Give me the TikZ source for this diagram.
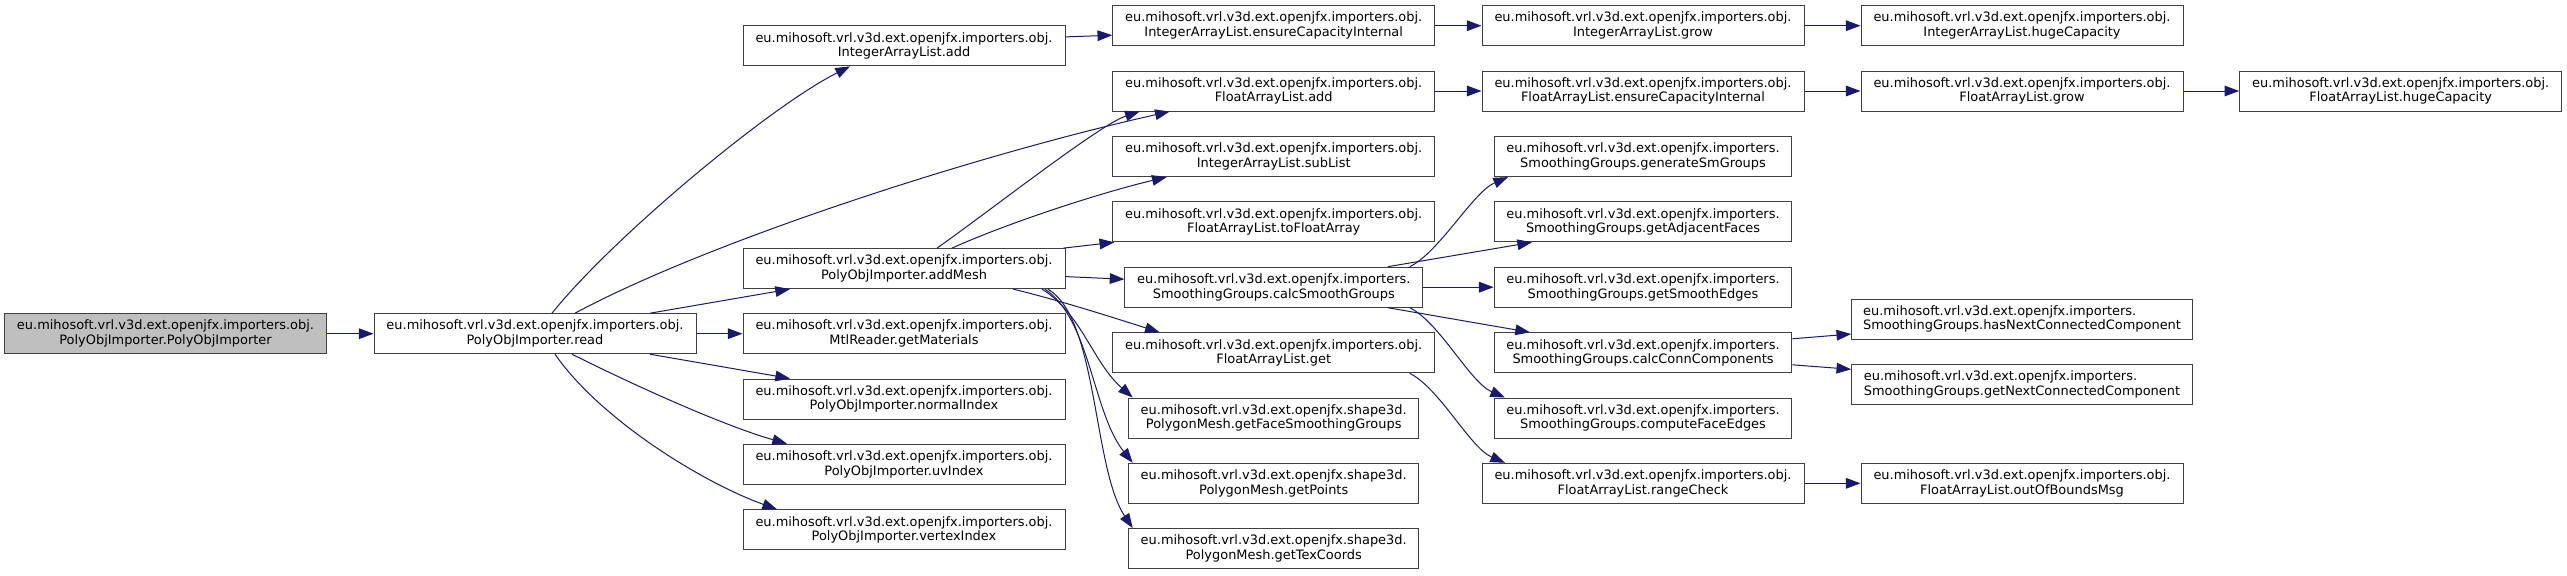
\documentclass[tikz,border=0pt]{standalone}
\usepackage{fontspec}
\setmainfont{DejaVu Sans}
\usepackage{tikz}
\usetikzlibrary{arrows.meta,calc}
\definecolor{cedge}{RGB}{25,25,112}
\definecolor{cbord}{RGB}{64,64,64}
\definecolor{cgris}{RGB}{191,191,191}
\newcommand{\pkobj}{eu.mihosoft.vrl.v3d.ext.openjfx.importers.obj.}
\newcommand{\pksg}{eu.mihosoft.vrl.v3d.ext.openjfx.importers.}
\newcommand{\pkmsh}{eu.mihosoft.vrl.v3d.ext.openjfx.shape3d.}

\begin{document}
\begin{tikzpicture}[x=0.75pt, y=-0.75pt, >={Triangle[length=11pt,width=8pt]},
  fn/.style={draw=cbord, line width=0.75pt, fill=white, align=center, inner sep=1pt,
    minimum height=30pt, minimum width=241.5pt, font=\fontsize{9.7}{11}\selectfont},
  sg/.style={fn, minimum width=223.3pt},
  pm/.style={fn, minimum width=217.5pt},
  cc/.style={fn, minimum width=255.5pt, align=left},
  ed/.style={->, cedge, line width=0.75pt}]
\useasboundingbox (0,0) rectangle (2567,575);
\node[fn, fill=cgris] (poi) at (165.5,333.7) {\pkobj\\PolyObjImporter.PolyObjImporter};
\node[fn] (rd) at (535,333.7) {\pkobj\\PolyObjImporter.read};
\node[fn] (iadd) at (904,45.9) {\pkobj\\IntegerArrayList.add};
\node[fn] (amesh) at (904,268.6) {\pkobj\\PolyObjImporter.addMesh};
\node[fn] (mtl) at (904,333.7) {\pkobj\\MtlReader.getMaterials};
\node[fn] (nidx) at (904,399) {\pkobj\\PolyObjImporter.normalIndex};
\node[fn] (uvi) at (904,464.2) {\pkobj\\PolyObjImporter.uvIndex};
\node[fn] (vidx) at (904,529.8) {\pkobj\\PolyObjImporter.vertexIndex};
\node[fn] (iecap) at (1273.7,25.7) {\pkobj\\IntegerArrayList.ensureCapacityInternal};
\node[fn] (fadd) at (1273.7,91) {\pkobj\\FloatArrayList.add};
\node[fn] (isub) at (1273.7,156.6) {\pkobj\\IntegerArrayList.subList};
\node[fn] (tofa) at (1273.7,221.8) {\pkobj\\FloatArrayList.toFloatArray};
\node[sg] (csg) at (1273.8,287.2) {\pksg\\SmoothingGroups.calcSmoothGroups};
\node[fn] (fget) at (1273.7,352.8) {\pkobj\\FloatArrayList.get};
\node[pm] (fsg) at (1273.7,418) {\pkmsh\\PolygonMesh.getFaceSmoothingGroups};
\node[pm] (gpts) at (1273.7,483.3) {\pkmsh\\PolygonMesh.getPoints};
\node[pm] (gtex) at (1273.7,548.6) {\pkmsh\\PolygonMesh.getTexCoords};
\node[fn] (igrow) at (1643,25.7) {\pkobj\\IntegerArrayList.grow};
\node[fn] (fecap) at (1643,91) {\pkobj\\FloatArrayList.ensureCapacityInternal};
\node[sg] (gensm) at (1643,156.6) {\pksg\\SmoothingGroups.generateSmGroups};
\node[sg] (adjf) at (1643,221.8) {\pksg\\SmoothingGroups.getAdjacentFaces};
\node[sg] (sme) at (1643,287.2) {\pksg\\SmoothingGroups.getSmoothEdges};
\node[sg] (ccomp) at (1643,352.8) {\pksg\\SmoothingGroups.calcConnComponents};
\node[sg] (cfe) at (1643,418) {\pksg\\SmoothingGroups.computeFaceEdges};
\node[fn] (rchk) at (1643,483.3) {\pkobj\\FloatArrayList.rangeCheck};
\node[fn] (ihuge) at (2022,25.7) {\pkobj\\IntegerArrayList.hugeCapacity};
\node[fn] (fgrow) at (2022,91) {\pkobj\\FloatArrayList.grow};
\node[cc] (hasnc) at (2022,319) {\pksg\\SmoothingGroups.hasNextConnectedComponent};
\node[cc] (getnc) at (2022,384.3) {\pksg\\SmoothingGroups.getNextConnectedComponent};
\node[fn] (oob) at (2022,483.3) {\pkobj\\FloatArrayList.outOfBoundsMsg};
\node[fn] (fhuge) at (2400.7,91) {\pkobj\\FloatArrayList.hugeCapacity};
\foreach \a/\b in {poi/rd, rd/mtl, csg/sme, iecap/igrow, igrow/ihuge, fadd/fecap,
  fecap/fgrow, fgrow/fhuge, rchk/oob}
  \draw[ed] (\a) -- (\b);
\draw[ed] ($(rd.north)+(17,0)$) .. controls +(60,-75) and +(-80,40) .. ($(iadd.south)+(-54,0)$);
\draw[ed] ($(rd.north)+(40,0)$) .. controls +(130,-70) and +(-200,45) .. ($(fadd.south)+(-104,0)$);
\draw[ed] ($(rd.north)+(115,0)$) -- ($(amesh.south)+(-114,0)$);
\draw[ed] ($(rd.south)+(115,0)$) -- ($(nidx.north)+(-114,0)$);
\draw[ed] ($(rd.south)+(37,0)$) .. controls +(70,35) and +(-60,-17) .. ($(uvi.north)+(-117,0)$);
\draw[ed] ($(rd.south)+(20,0)$) .. controls +(45,65) and +(-75,-27) .. ($(vidx.north)+(-127,0)$);
\draw[ed] ($(iadd.east)+(0,-9)$) -- ($(iecap.west)+(0,9.5)$);
\draw[ed] ($(amesh.north)+(33,0)$) .. controls +(50,-35) and +(-40,13) .. ($(fadd.south)+(-134,0)$);
\draw[ed] ($(amesh.north)+(48,0)$) .. controls +(60,-27) and +(-60,14) .. ($(isub.south)+(-107,0)$);
\draw[ed] ($(amesh.north east)+(-2,0)$) -- ($(tofa.south west)+(2,0)$);
\draw[ed] ($(amesh.east)+(0,8)$) -- ($(csg.west)+(0,-8)$);
\draw[ed] ($(amesh.south)+(109,0)$) .. controls +(50,12) and +(-35,-11) .. ($(fget.north)+(-114,0)$);
\draw[ed] ($(amesh.south)+(138,0)$) .. controls +(40,25) and +(-40,-35) .. ($(fsg.north)+(-141,0)$);
\draw[ed] ($(amesh.south)+(141,0)$) .. controls +(45,30) and +(-40,-50) .. ($(gpts.north)+(-141,0)$);
\draw[ed] ($(amesh.south)+(144,0)$) .. controls +(50,30) and +(-40,-60) .. ($(gtex.north)+(-141,0)$);
\draw[ed] ($(csg.north)+(136,0)$) .. controls +(30,-15) and +(-35,15) .. ($(gensm.south)+(-135,0)$);
\draw[ed] ($(csg.north)+(114,0)$) -- ($(adjf.south)+(-111,0)$);
\draw[ed] ($(csg.south)+(114,0)$) -- ($(ccomp.north)+(-113,0)$);
\draw[ed] ($(csg.south)+(136,0)$) .. controls +(30,15) and +(-35,-15) .. ($(cfe.north)+(-138,0)$);
\draw[ed] ($(fget.south)+(136,0)$) .. controls +(30,15) and +(-35,-15) .. ($(rchk.north)+(-138,0)$);
\draw[ed] ($(ccomp.east)+(0,-14)$) -- ($(hasnc.west)+(0,15)$);
\draw[ed] ($(ccomp.east)+(0,12)$) -- ($(getnc.west)+(0,-15)$);
\end{tikzpicture}
\end{document}
